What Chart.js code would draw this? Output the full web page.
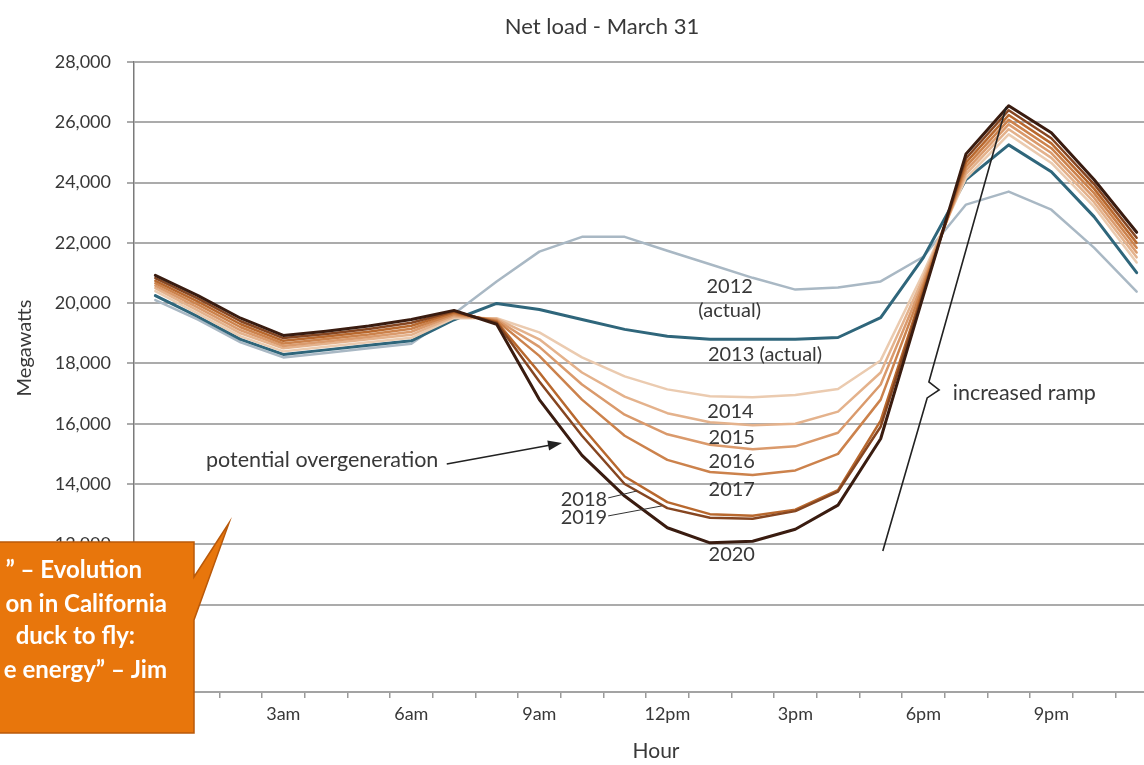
<!DOCTYPE html>
<html>
<head>
<meta charset="utf-8">
<title>Net load - March 31</title>
<script src="https://cdn.jsdelivr.net/npm/chart.js@4.4.1/dist/chart.umd.min.js"></script>
<style>
  html, body { margin: 0; padding: 0; background: #ffffff; overflow: hidden; width: 1144px; height: 765px; }
  canvas { display: block; }
</style>
</head>
<body>
<canvas id="duck" width="1205" height="765"></canvas>
<script>
// Hour-of-day categories and the subset that carries a tick label
const hours = ['12am','1am','2am','3am','4am','5am','6am','7am','8am','9am','10am','11am',
               '12pm','1pm','2pm','3pm','4pm','5pm','6pm','7pm','8pm','9pm','10pm','11pm'];
const labelledHours = ['12am','3am','6am','9am','12pm','3pm','6pm','9pm'];
const mwTicks = [10000, 12000, 14000, 16000, 18000, 20000, 22000, 24000, 26000, 28000];

// Net load (MW) for each hour
const load2012 = [20100,19450,18700,18200,18350,18500,18650,19650,20720,21710,22200,22200,21740,21290,20840,20450,20520,20720,21540,23270,23700,23100,21840,20380];
const load2013 = [20250,19550,18800,18300,18450,18600,18750,19450,19990,19790,19460,19130,18900,18800,18800,18800,18860,19520,21510,24100,25250,24360,22870,21010];
const load2014 = [20400,19650,18900,18400,18550,18700,18850,19500,19500,19030,18200,17570,17140,16910,16880,16950,17150,18100,21000,24150,25600,24650,23200,21350];
const load2015 = [20500,19750,19000,18500,18650,18800,18950,19550,19480,18800,17700,16900,16350,16050,15950,16000,16400,17700,20850,24280,25770,24820,23350,21520];
const load2016 = [20580,19850,19100,18580,18730,18880,19050,19600,19450,18550,17300,16300,15650,15300,15150,15250,15700,17300,20700,24400,25930,24980,23500,21680];
const load2017 = [20660,19950,19200,18660,18810,18960,19150,19650,19420,18250,16800,15600,14800,14400,14300,14450,15000,16800,20580,24530,26080,25140,23650,21840];
const load2018 = [20740,20050,19300,18750,18890,19050,19250,19700,19380,17700,15900,14250,13400,13000,12950,13150,13800,16100,20460,24660,26240,25300,23800,22000];
const load2019 = [20830,20150,19400,18840,18980,19140,19350,19730,19350,17400,15600,14000,13200,12880,12850,13100,13750,15900,20350,24800,26400,25470,23950,22170];
const load2020 = [20920,20250,19500,18930,19070,19240,19460,19760,19300,16800,14950,13600,12550,12050,12100,12500,13300,15500,20250,24950,26550,25650,24100,22350];

const FONT = 'Lato, "Open Sans", sans-serif';
const TEXT = '#383838';

// later years are stacked on top of earlier ones (lower order = drawn last)
function series(label, data, color, width, order) {
  return { label, data, borderColor: color, backgroundColor: color, borderWidth: width,
           pointRadius: 0, tension: 0, fill: false, order };
}

// Text notes placed in data space: h = hour index, v = megawatts
const curveNotes = [
  { text: '2012',          h: 13.46, v: 20537 },
  { text: '(actual)',      h: 13.46, v: 19741 },
  { text: '2013 (actual)', h: 14.29, v: 18281 },
  { text: '2014',          h: 13.48, v: 16390 },
  { text: '2015',          h: 13.51, v: 15528 },
  { text: '2016',          h: 13.51, v: 14732 },
  { text: '2017',          h: 13.51, v: 13803 },
  { text: '2020',          h: 13.51, v: 11647 }
];
const sideNotes = [
  { text: '2018', h: 10.59, v: 13472, to: [11.29, 13770] },
  { text: '2019', h: 10.59, v: 12875, to: [11.87, 13273] }
];
const overgen = { text: 'potential overgeneration', h: 3.91, v: 14798, from: [6.83, 14666], to: [9.53, 15362] };
const ramp = { text: 'increased ramp', h: 18.69, v: 17021,
               path: [[17.05, 11780], [18.09, 16855], [18.37, 17120], [18.13, 17386], [19.94, 26507]] };

const callout = {
  lines: ['\u201D \u2013 Evolution', 'on in California', 'duck to fly:', 'e energy\u201D \u2013 Jim'],
  ends: [142, 167, 135, 167],
  rows: [570, 604, 636, 670]
};

const overlay = {
  id: 'overlay',
  afterDraw(chart) {
    const { ctx, scales: { x, y } } = chart;
    const px = h => x.getPixelForValue(h);
    const py = v => y.getPixelForValue(v);
    ctx.save();

    // chart title and axis titles
    ctx.fillStyle = TEXT;
    ctx.textAlign = 'center';
    ctx.textBaseline = 'middle';
    ctx.font = '22px ' + FONT;
    ctx.fillText('Net load - March 31', 602, 27);
    ctx.font = '21px ' + FONT;
    ctx.fillText('Hour', 656, 751);
    ctx.save();
    ctx.translate(25, 348);
    ctx.rotate(-Math.PI / 2);
    ctx.font = '20px ' + FONT;
    ctx.fillText('Megawatts', 0, 0);
    ctx.restore();

    // curve labels
    ctx.font = '20px ' + FONT;
    curveNotes.forEach(n => ctx.fillText(n.text, px(n.h), py(n.v)));

    ctx.strokeStyle = '#333';
    ctx.lineWidth = 1;
    ctx.textAlign = 'right';
    sideNotes.forEach(n => {
      ctx.fillText(n.text, px(n.h), py(n.v));
      ctx.beginPath();
      ctx.moveTo(px(n.h) + 1, py(n.v) - 2);
      ctx.lineTo(px(n.to[0]), py(n.to[1]));
      ctx.stroke();
    });

    // overgeneration note with arrow
    ctx.textAlign = 'center';
    ctx.font = '21.5px ' + FONT;
    ctx.fillText(overgen.text, px(overgen.h), py(overgen.v));
    const ax0 = px(overgen.from[0]), ay0 = py(overgen.from[1]);
    const ax1 = px(overgen.to[0]), ay1 = py(overgen.to[1]);
    const ang = Math.atan2(ay1 - ay0, ax1 - ax0);
    ctx.strokeStyle = '#222';
    ctx.lineWidth = 1.6;
    ctx.beginPath();
    ctx.moveTo(ax0, ay0);
    ctx.lineTo(ax1 - 10 * Math.cos(ang), ay1 - 10 * Math.sin(ang));
    ctx.stroke();
    ctx.fillStyle = '#222';
    ctx.beginPath();
    ctx.moveTo(ax1, ay1);
    ctx.lineTo(ax1 - 14 * Math.cos(ang) + 5 * Math.sin(ang), ay1 - 14 * Math.sin(ang) - 5 * Math.cos(ang));
    ctx.lineTo(ax1 - 14 * Math.cos(ang) - 5 * Math.sin(ang), ay1 - 14 * Math.sin(ang) + 5 * Math.cos(ang));
    ctx.closePath();
    ctx.fill();

    // increased ramp bracket
    ctx.strokeStyle = '#222';
    ctx.lineWidth = 1.6;
    ctx.beginPath();
    ramp.path.forEach((p, i) => i ? ctx.lineTo(px(p[0]), py(p[1])) : ctx.moveTo(px(p[0]), py(p[1])));
    ctx.stroke();
    ctx.fillStyle = TEXT;
    ctx.textAlign = 'left';
    ctx.font = '21.5px ' + FONT;
    ctx.fillText(ramp.text, px(ramp.h), py(ramp.v));

    // orange speech callout
    ctx.fillStyle = '#E8760C';
    ctx.strokeStyle = '#B9590A';
    ctx.lineWidth = 1.5;
    ctx.beginPath();
    ctx.moveTo(-5, 542);
    ctx.lineTo(194, 542);
    ctx.lineTo(194, 577);
    ctx.lineTo(229, 523);
    ctx.lineTo(194, 620);
    ctx.lineTo(194, 733);
    ctx.lineTo(-5, 733);
    ctx.closePath();
    ctx.fill();
    ctx.stroke();
    ctx.fillStyle = '#ffffff';
    ctx.textAlign = 'right';
    ctx.font = 'bold 24px ' + FONT;
    callout.lines.forEach((t, i) => ctx.fillText(t, callout.ends[i], callout.rows[i]));

    ctx.restore();
  }
};

new Chart(document.getElementById('duck'), {
  type: 'line',
  data: {
    labels: hours,
    datasets: [
      series('2012', load2012, '#a9b8c4', 2.5, 9),
      series('2013', load2013, '#2f667b', 3, 8),
      series('2014', load2014, '#ebcbb0', 2.5, 7),
      series('2015', load2015, '#e4b28c', 2.5, 6),
      series('2016', load2016, '#da9a6c', 2.5, 5),
      series('2017', load2017, '#cc824c', 2.5, 4),
      series('2018', load2018, '#b8682e', 2.5, 3),
      series('2019', load2019, '#864621', 2.5, 2),
      series('2020', load2020, '#3a1c10', 3, 1)
    ]
  },
  options: {
    responsive: false,
    animation: false,
    layout: { padding: { top: 62, right: 47, left: 0, bottom: 0 } },
    plugins: { legend: { display: false }, tooltip: { enabled: false }, title: { display: false } },
    elements: { line: { borderJoinStyle: 'round', borderCapStyle: 'round' } },
    scales: {
      x: {
        type: 'category',
        offset: true,
        grid: { display: true, drawOnChartArea: false, offset: true, tickLength: 6, color: '#9a9a9a', lineWidth: 1.5 },
        border: { display: true, color: '#a3a3a3', width: 2 },
        ticks: {
          autoSkip: false, maxRotation: 0, minRotation: 0, padding: 5, color: TEXT,
          font: { family: FONT, size: 18 },
          callback: (v, i) => labelledHours.includes(hours[i]) ? hours[i] : ''
        },
        afterFit: s => { s.height = 73; }
      },
      y: {
        min: 7100,
        max: 28000,
        afterBuildTicks: s => { s.ticks = mwTicks.map(v => ({ value: v })); },
        grid: { color: '#ababab', lineWidth: 2, tickLength: 7 },
        border: { display: true, color: '#7a7a7a', width: 1.5 },
        ticks: {
          padding: 16, color: TEXT, font: { family: FONT, size: 18 },
          callback: v => v.toLocaleString('en-US')
        },
        afterFit: s => { s.width = 134; }
      }
    }
  },
  plugins: [overlay]
});
</script>
</body>
</html>
